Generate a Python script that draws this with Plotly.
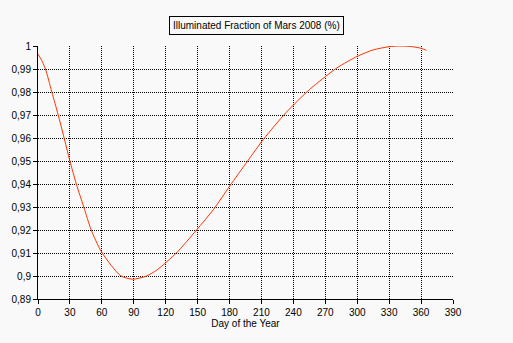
import plotly.graph_objects as go

# Illuminated fraction of Mars through 2008, sampled by day of year
days = [0, 3, 7, 13, 19, 24, 30, 36, 43, 50, 59, 69, 78, 89, 102, 112, 130, 149,
        165, 180, 197, 212, 233, 255, 281, 300, 315, 330, 340, 350, 360, 365]
fraction = [0.9965, 0.9942, 0.990, 0.980, 0.970, 0.961, 0.950, 0.940, 0.930,
            0.920, 0.911, 0.9045, 0.900, 0.8986, 0.900, 0.9027, 0.910, 0.920,
            0.929, 0.939, 0.950, 0.9595, 0.971, 0.981, 0.9905, 0.9955, 0.9983,
            0.9997, 1.0, 0.9998, 0.999, 0.9981]

x_ticks = list(range(0, 391, 30))
y_ticks = [0.89, 0.90, 0.91, 0.92, 0.93, 0.94, 0.95, 0.96, 0.97, 0.98, 0.99, 1.0]
y_tick_labels = ["0,89", "0,9", "0,91", "0,92", "0,93", "0,94", "0,95", "0,96",
                 "0,97", "0,98", "0,99", "1"]

title_text = "Illuminated Fraction of Mars 2008 (%)"
x_title = "Day of the Year"

font = dict(family="Liberation Sans, Arial, sans-serif", size=10, color="black")
bg = "#f9f9f9"

fig = go.Figure()
fig.add_trace(go.Scatter(
    x=days, y=fraction, mode="lines",
    line=dict(color="#ff3300", width=1, shape="spline", smoothing=0.7),
    hoverinfo="skip", showlegend=False,
))

axis_common = dict(
    showgrid=True, gridcolor="black", gridwidth=1, griddash="1px,1px",
    showline=True, linecolor="black", linewidth=1,
    ticks="outside", ticklen=4, tickcolor="black", tickwidth=1,
    zeroline=False, tickfont=font, fixedrange=True,
)

fig.update_xaxes(
    range=[0, 390], tickvals=x_ticks, ticktext=[str(v) for v in x_ticks],
    title=dict(text=x_title, font=font, standoff=2), **axis_common,
)
fig.update_yaxes(
    range=[0.89, 1.0], tickvals=y_ticks, ticktext=y_tick_labels, **axis_common,
)

fig.add_annotation(
    text=title_text, xref="paper", yref="paper",
    x=(256 - 36) / 417, y=1.0, yshift=21, xanchor="center", yanchor="middle",
    showarrow=False, font=font, bordercolor="black", borderwidth=1,
    borderpad=3, bgcolor=bg,
)

fig.update_layout(
    width=513, height=343,
    margin=dict(l=36, r=60, t=46, b=44),
    paper_bgcolor=bg, plot_bgcolor=bg,
    font=font,
)

fig.write_html("out.html", config={"displayModeBar": False})
